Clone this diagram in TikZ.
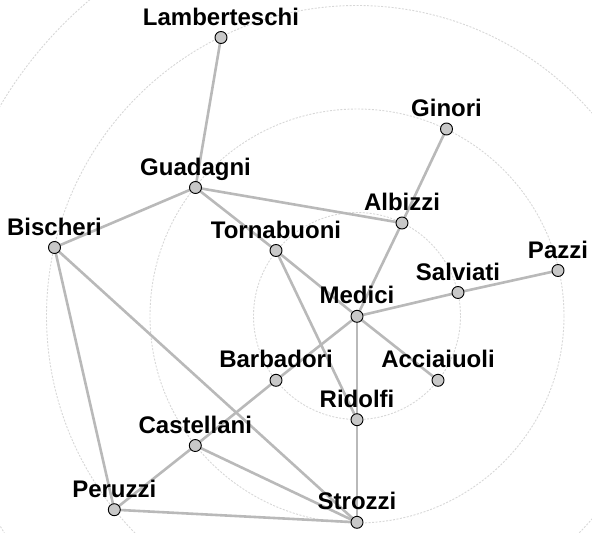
\documentclass[tikz,border=0pt]{standalone}
\usepackage{fontspec}
\setmainfont{Liberation Sans}
\definecolor{edgecol}{RGB}{185,185,185}
\definecolor{ringcol}{RGB}{215,215,215}
\definecolor{vfill}{RGB}{200,200,200}
\tikzset{
  vtx/.style={circle, draw=black, fill=vfill, line width=0.9pt, minimum size=12pt, inner sep=0pt},
  lbl/.style={anchor=base, inner sep=0pt, font=\fontsize{24}{24}\selectfont\bfseries, text=black},
  edge/.style={draw=edgecol, line width=2.6pt},
  ring/.style={draw=ringcol, line width=0.9pt, dash pattern=on 2pt off 1.5pt}
}
\begin{document}
\begin{tikzpicture}[x=1pt, y=-1pt]
\useasboundingbox (0,0) rectangle (592,533);
\begin{scope}
\clip (0,0) rectangle (592,533);
\coordinate (ctr) at (357,316);
\foreach \r in {103.5,207,310.5,414}
  \draw[ring] (ctr) circle[radius=\r];
\end{scope}
% vertices (coordinates first, drawn later)
\coordinate (lam) at (221,37.5);
\coordinate (gin) at (446.5,129);
\coordinate (gua) at (195.5,187.5);
\coordinate (alb) at (402,223);
\coordinate (bis) at (54.5,247.5);
\coordinate (tor) at (276,250.5);
\coordinate (paz) at (558,270.5);
\coordinate (sal) at (458,292.5);
\coordinate (med) at (357,316.3);
\coordinate (acc) at (438,380.3);
\coordinate (bar) at (276,380.3);
\coordinate (rid) at (357,419.7);
\coordinate (cas) at (195.3,445.5);
\coordinate (per) at (114.3,509.7);
\coordinate (str) at (357,522.3);
% edges
\foreach \a/\b in {lam/gua, gua/alb, gua/bis, gua/tor, gin/alb, alb/med, tor/med, tor/rid,
  sal/paz, sal/med, med/acc, med/bar, med/rid, rid/str, bar/cas, cas/per, cas/str,
  bis/str, bis/per, per/str}
  \draw[edge] (\a) -- (\b);
% vertex nodes and labels
\foreach \v/\t in {lam/Lamberteschi, gin/Ginori, gua/Guadagni, alb/Albizzi, bis/Bischeri,
  tor/Tornabuoni, paz/Pazzi, sal/Salviati, med/Medici, acc/Acciaiuoli, bar/Barbadori,
  rid/Ridolfi, cas/Castellani, per/Peruzzi, str/Strozzi}{
  \node[vtx] (\v n) at (\v) {};
  \node[lbl] (\v l) at ([yshift=12.5pt]\v) {\t};
}
\end{tikzpicture}
\end{document}
